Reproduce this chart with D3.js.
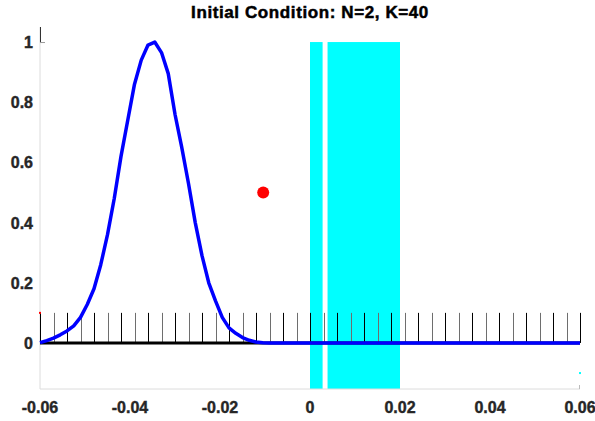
<!DOCTYPE html>
<head>
  <meta charset="utf-8">
  <script src="https://d3js.org/d3.v7.min.js"></script>
  <style>
    body {
        margin:0;
        background: #fff;
        font-family: "Liberation Sans", Arial, Helvetica, sans-serif;
    }
    text {
        font-family: "Liberation Sans", Arial, Helvetica, sans-serif;
        font-weight: bold;
    }
    .tick-label { font-size: 16px; fill: #262626; stroke: #262626; stroke-width: 0.4px; }
    .title { font-size: 17px; fill: #000; stroke: #000; stroke-width: 0.5px; letter-spacing: 0.6px; }
  </style>
</head>
<body>
  <script>

    var width = 595, height = 421;

    var titleText = "Initial Condition: N=2, K=40";

    // blue curve, sampled every 0.0015 from -0.06 to 0.06
    var curveStep = 0.0015;
    var curveValues = [0.001, 0.008, 0.016, 0.027, 0.040, 0.057, 0.085, 0.128, 0.18, 0.26,
                       0.36, 0.48, 0.62, 0.74, 0.86, 0.94, 0.99, 1.0, 0.965, 0.895,
                       0.76, 0.65, 0.53, 0.40, 0.29, 0.20, 0.14, 0.085, 0.05, 0.032,
                       0.018, 0.009, 0.003, 0.001, 0, 0, 0, 0, 0, 0,
                       0, 0, 0, 0, 0, 0, 0, 0, 0, 0,
                       0, 0, 0, 0, 0, 0, 0, 0, 0, 0,
                       0, 0, 0, 0, 0, 0, 0, 0, 0, 0,
                       0, 0, 0, 0, 0, 0, 0, 0, 0, 0, 0];

    // cyan bands [x0, x1]
    var bands = [[0, 0.0028], [0.0039, 0.02]];
    var bandTop = 1.0;

    // vertical stems (K=40 intervals)
    var stemStep = 0.003;
    var stemHeight = 0.1;

    // red point
    var point = {x: -0.0104, y: 0.5};

    var xTicks = [-0.06, -0.04, -0.02, 0, 0.02, 0.04, 0.06];
    var xTickLabels = ["-0.06", "-0.04", "-0.02", "0", "0.02", "0.04", "0.06"];
    var yTicks = [0, 0.2, 0.4, 0.6, 0.8, 1];
    var yTickLabels = ["0", "0.2", "0.4", "0.6", "0.8", "1"];

    var x = d3.scaleLinear().domain([-0.06, 0.06]).range([40, 580]);
    var y = d3.scaleLinear().domain([-0.153, 1.05]).range([389, 27]);

    var svg = d3.select("body").append("svg")
        .attr("width", width)
        .attr("height", height);

    // cyan bands
    svg.selectAll(".band")
        .data(bands)
        .enter().append("rect")
        .attr("class", "band")
        .attr("x", d => x(d[0]))
        .attr("width", d => x(d[1]) - x(d[0]))
        .attr("y", y(bandTop))
        .attr("height", y.range()[0] - y(bandTop))
        .style("fill", "#00ffff");

    // axes (light grey box edges)
    svg.append("line")
        .attr("x1", x(-0.06)).attr("x2", x(0.06))
        .attr("y1", y.range()[0]).attr("y2", y.range()[0])
        .style("stroke", "#dcdcdc").style("stroke-width", 1);
    svg.append("line")
        .attr("x1", x(-0.06)).attr("x2", x(-0.06))
        .attr("y1", y.range()[0]).attr("y2", y.range()[1])
        .style("stroke", "#dcdcdc").style("stroke-width", 1);
    svg.append("line")
        .attr("x1", x(-0.06) + 0.5).attr("x2", x(-0.06) + 0.5)
        .attr("y1", y.range()[1]).attr("y2", y(1))
        .style("stroke", "#333").style("stroke-width", 1);
    svg.append("line")
        .attr("x1", x(-0.06)).attr("x2", x(-0.06) + 5)
        .attr("y1", y(1) + 0.5).attr("y2", y(1) + 0.5)
        .style("stroke", "#999").style("stroke-width", 1);
    svg.append("line")
        .attr("x1", x(0.06) - 0.5).attr("x2", x(0.06) - 0.5)
        .attr("y1", y.range()[0]).attr("y2", y.range()[0] - 4)
        .style("stroke", "#bbb").style("stroke-width", 1);

    // stems
    var stemX = d3.range(0, 41).map(i => -0.06 + i * stemStep);
    svg.selectAll(".stem")
        .data(stemX)
        .enter().append("line")
        .attr("class", "stem")
        .attr("x1", d => Math.round(x(d)) + 0.5)
        .attr("x2", d => Math.round(x(d)) + 0.5)
        .attr("y1", y(0))
        .attr("y2", y(stemHeight))
        .style("stroke", (d, i) => i % 2 === 0 ? "#000" : "#6e6e6e")
        .style("stroke-width", 1);

    // tiny markers at corners
    svg.append("rect")
        .attr("x", x(-0.06) - 1).attr("y", y(stemHeight) - 1)
        .attr("width", 2).attr("height", 2).style("fill", "#ff0000");
    svg.append("rect")
        .attr("x", x(0.06) - 1).attr("y", y(-0.1) - 1)
        .attr("width", 2).attr("height", 2).style("fill", "#00ffff");

    // black baseline
    svg.append("line")
        .attr("x1", x(-0.06)).attr("x2", x(0.06))
        .attr("y1", y(0)).attr("y2", y(0))
        .style("stroke", "#000").style("stroke-width", 3);

    // blue curve
    var curveData = curveValues.map((v, i) => ({x: -0.06 + i * curveStep, y: v}));
    var line = d3.line().x(d => x(d.x)).y(d => y(d.y));
    svg.append("path")
        .datum(curveData)
        .attr("d", line)
        .style("fill", "none")
        .style("stroke", "#0000ff")
        .style("stroke-width", 3.5)
        .style("stroke-linejoin", "round");

    // red point
    svg.append("circle")
        .attr("cx", x(point.x))
        .attr("cy", y(point.y))
        .attr("r", 6)
        .style("fill", "#ff0000");

    // tick labels
    svg.selectAll(".xlab")
        .data(xTicks)
        .enter().append("text")
        .attr("class", "tick-label")
        .attr("x", d => x(d))
        .attr("y", 413)
        .attr("text-anchor", "middle")
        .text((d, i) => xTickLabels[i]);

    svg.selectAll(".ylab")
        .data(yTicks)
        .enter().append("text")
        .attr("class", "tick-label")
        .attr("x", 33)
        .attr("y", d => y(d) + 6)
        .attr("text-anchor", "end")
        .text((d, i) => yTickLabels[i]);

    svg.append("text")
        .attr("class", "title")
        .attr("x", 310)
        .attr("y", 18)
        .attr("text-anchor", "middle")
        .text(titleText);
  </script>
</body>
